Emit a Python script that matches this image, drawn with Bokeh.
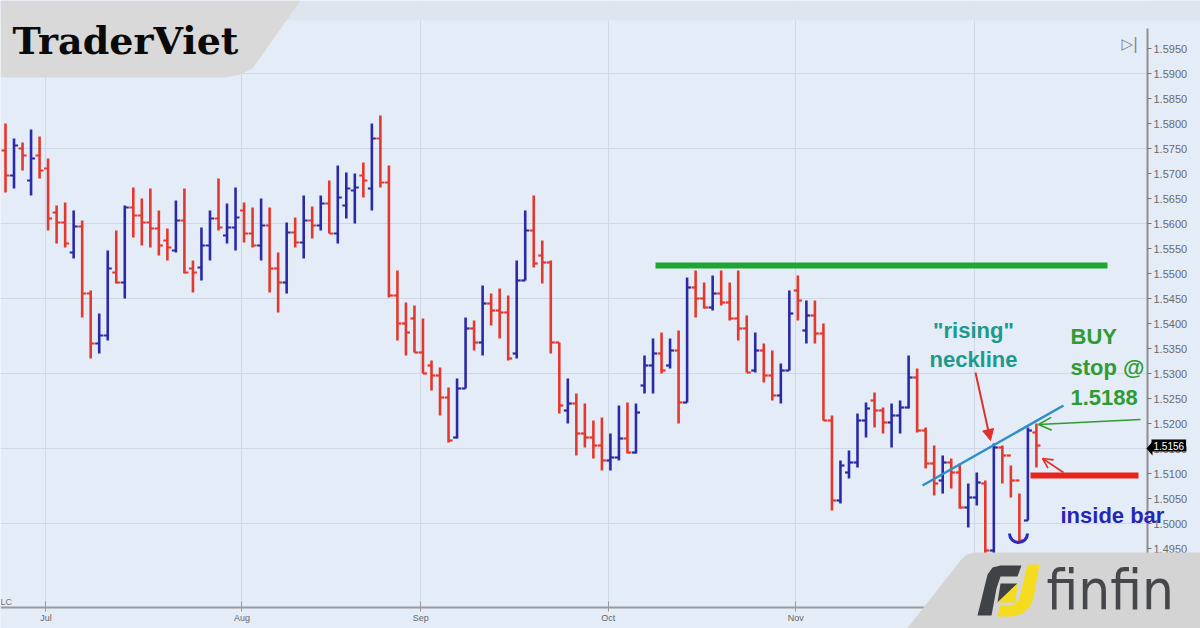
import numpy as np
import pandas as pd
from bokeh.plotting import figure
from bokeh.models import (ColumnDataSource, Range1d, FixedTicker, NumeralTickFormatter, Label,
                          PolyAnnotation, BoxAnnotation, Arrow, NormalHead, OpenHead)
from bokeh.embed import file_html
from bokeh.resources import INLINE

# ---------------- data (GBP/USD daily bars) ----------------
start_date = "2015-06-24"
highs = [1.5800, 1.5770, 1.5762, 1.5788, 1.5774, 1.5730, 1.5636, 1.5642, 1.5626, 1.5606,
         1.5466, 1.5420, 1.5546, 1.5586, 1.5636, 1.5672, 1.5650, 1.5670, 1.5626, 1.5590,
         1.5646, 1.5670, 1.5526, 1.5592, 1.5626, 1.5690, 1.5640, 1.5672, 1.5642, 1.5632,
         1.5650, 1.5632, 1.5542, 1.5602, 1.5612, 1.5656, 1.5634, 1.5656, 1.5686, 1.5716,
         1.5702, 1.5700, 1.5722, 1.5800, 1.5816, 1.5716, 1.5506, 1.5442, 1.5436, 1.5410,
         1.5326, 1.5312, 1.5272, 1.5290, 1.5412, 1.5406, 1.5476, 1.5460, 1.5470, 1.5456,
         1.5526, 1.5626, 1.5656, 1.5566, 1.5526, 1.5362, 1.5290, 1.5260, 1.5240, 1.5206,
         1.5212, 1.5180, 1.5236, 1.5242, 1.5240, 1.5336, 1.5370, 1.5382, 1.5370, 1.5386,
         1.5492, 1.5506, 1.5482, 1.5496, 1.5506, 1.5482, 1.5506, 1.5416, 1.5382, 1.5360,
         1.5346, 1.5320, 1.5466, 1.5496, 1.5446, 1.5446, 1.5400, 1.5216, 1.5126, 1.5146,
         1.5220, 1.5242, 1.5262, 1.5232, 1.5240, 1.5246, 1.5336, 1.5310, 1.5192, 1.5156,
         1.5136, 1.5130, 1.5120, 1.5080, 1.5102, 1.5086, 1.5160, 1.5156, 1.5116, 1.5060,
         1.5192, 1.5200]
lows = [1.5662, 1.5670, 1.5706, 1.5656, 1.5690, 1.5586, 1.5560, 1.5552, 1.5530, 1.5412,
        1.5330, 1.5340, 1.5366, 1.5480, 1.5450, 1.5572, 1.5556, 1.5552, 1.5536, 1.5526,
        1.5542, 1.5500, 1.5462, 1.5486, 1.5526, 1.5586, 1.5560, 1.5546, 1.5562, 1.5552,
        1.5526, 1.5462, 1.5422, 1.5460, 1.5552, 1.5530, 1.5570, 1.5586, 1.5580, 1.5560,
        1.5610, 1.5600, 1.5652, 1.5626, 1.5672, 1.5452, 1.5366, 1.5336, 1.5342, 1.5300,
        1.5266, 1.5216, 1.5162, 1.5170, 1.5270, 1.5346, 1.5336, 1.5396, 1.5370, 1.5326,
        1.5330, 1.5486, 1.5512, 1.5480, 1.5340, 1.5220, 1.5200, 1.5136, 1.5152, 1.5130,
        1.5106, 1.5106, 1.5126, 1.5140, 1.5140, 1.5260, 1.5260, 1.5300, 1.5310, 1.5200,
        1.5242, 1.5412, 1.5430, 1.5426, 1.5436, 1.5406, 1.5366, 1.5302, 1.5302, 1.5282,
        1.5246, 1.5240, 1.5306, 1.5406, 1.5360, 1.5360, 1.5206, 1.5026, 1.5040, 1.5090,
        1.5112, 1.5172, 1.5192, 1.5180, 1.5152, 1.5180, 1.5230, 1.5182, 1.5110, 1.5056,
        1.5060, 1.5070, 1.5030, 1.4992, 1.5036, 1.4930, 1.4930, 1.5080, 1.5052, 1.4962,
        1.5006, 1.5112]
opens = [1.5746, 1.5696, 1.5750, 1.5686, 1.5736, 1.5710, 1.5622, 1.5602, 1.5542, 1.5594,
         1.5460, 1.5360, 1.5376, 1.5502, 1.5482, 1.5632, 1.5616, 1.5602, 1.5590, 1.5566,
         1.5546, 1.5606, 1.5510, 1.5512, 1.5556, 1.5610, 1.5576, 1.5592, 1.5626, 1.5580,
         1.5556, 1.5596, 1.5510, 1.5482, 1.5582, 1.5562, 1.5606, 1.5596, 1.5640, 1.5580,
         1.5636, 1.5666, 1.5696, 1.5670, 1.5770, 1.5682, 1.5456, 1.5400, 1.5410, 1.5342,
         1.5316, 1.5296, 1.5252, 1.5172, 1.5270, 1.5390, 1.5362, 1.5440, 1.5426, 1.5422,
         1.5340, 1.5486, 1.5586, 1.5536, 1.5522, 1.5362, 1.5226, 1.5240, 1.5180, 1.5172,
         1.5156, 1.5126, 1.5132, 1.5170, 1.5142, 1.5276, 1.5316, 1.5340, 1.5316, 1.5346,
         1.5242, 1.5472, 1.5450, 1.5432, 1.5460, 1.5442, 1.5410, 1.5390, 1.5306, 1.5346,
         1.5296, 1.5256, 1.5306, 1.5466, 1.5386, 1.5416, 1.5380, 1.5206, 1.5046, 1.5102,
         1.5122, 1.5206, 1.5246, 1.5226, 1.5202, 1.5216, 1.5232, 1.5292, 1.5186, 1.5120,
         1.5086, 1.5122, 1.5102, 1.5032, 1.5052, 1.5080, 1.4946, 1.5152, 1.5136, 1.5086,
         1.5006, 1.5182]
closes = [1.5696, 1.5756, 1.5736, 1.5730, 1.5706, 1.5610, 1.5602, 1.5560, 1.5594, 1.5460,
          1.5360, 1.5376, 1.5510, 1.5482, 1.5632, 1.5616, 1.5602, 1.5590, 1.5556, 1.5552,
          1.5606, 1.5502, 1.5502, 1.5556, 1.5610, 1.5592, 1.5592, 1.5612, 1.5580, 1.5556,
          1.5596, 1.5510, 1.5482, 1.5582, 1.5562, 1.5606, 1.5596, 1.5640, 1.5580, 1.5652,
          1.5670, 1.5672, 1.5686, 1.5770, 1.5682, 1.5456, 1.5400, 1.5382, 1.5342, 1.5300,
          1.5296, 1.5252, 1.5166, 1.5270, 1.5390, 1.5362, 1.5440, 1.5426, 1.5422, 1.5330,
          1.5486, 1.5586, 1.5520, 1.5522, 1.5362, 1.5236, 1.5240, 1.5180, 1.5172, 1.5156,
          1.5126, 1.5132, 1.5170, 1.5142, 1.5222, 1.5316, 1.5340, 1.5306, 1.5346, 1.5242,
          1.5472, 1.5450, 1.5432, 1.5460, 1.5442, 1.5410, 1.5390, 1.5302, 1.5346, 1.5296,
          1.5256, 1.5306, 1.5420, 1.5446, 1.5416, 1.5380, 1.5206, 1.5046, 1.5116, 1.5122,
          1.5206, 1.5230, 1.5226, 1.5202, 1.5216, 1.5232, 1.5292, 1.5186, 1.5120, 1.5080,
          1.5122, 1.5102, 1.5032, 1.5052, 1.5082, 1.4946, 1.5152, 1.5136, 1.5086, 1.4966,
          1.5186, 1.5156]
month_labels = ["Jul", "Aug", "Sep", "Oct", "Nov", "Dec"]
price_ticks = [1.4950, 1.5000, 1.5050, 1.5100, 1.5150, 1.5200, 1.5250, 1.5300, 1.5350, 1.5400,
               1.5450, 1.5500, 1.5550, 1.5600, 1.5650, 1.5700, 1.5750, 1.5800, 1.5850, 1.5900, 1.5950]
grid_prices = [1.5000, 1.5150, 1.5300, 1.5450, 1.5600, 1.5750, 1.5900]
last_price = 1.5156
resistance = 1.5516
stop_level = 1.5096

# ---------------- layout helpers (reference pixel -> data space) ----------------
W, H = 1200, 628
X0, PX_BAR = 5.0, 8.52
Y0, PX_UNIT = 523.0, 5000.0
def dx(X):
    return (X - X0) / PX_BAR
def dy(Y):
    return 1.5 + (Y0 - Y) / PX_UNIT

BG = "#e4ecf8"
RED, BLUE = "#e5382c", "#2a2aa6"

n = len(highs)
idx = np.arange(n)
dates = pd.bdate_range(start_date, periods=n)
month_pos, month_txt = [], []
for k in range(1, n):
    if dates[k].month != dates[k - 1].month:
        month_pos.append(k - 0.25)
        month_txt.append(month_labels[len(month_pos) - 1])

colors = [RED if c < o else BLUE for o, c in zip(opens, closes)]
src = ColumnDataSource(dict(x=idx, xl=idx - 0.47, xr=idx + 0.47, high=highs, low=lows,
                            open=opens, close=closes, color=colors))

p = figure(width=W, height=H, x_range=Range1d(dx(0), dx(W)), y_range=Range1d(dy(H), dy(0)),
           y_axis_location="right", output_backend="svg", toolbar_location=None, min_border=0)
p.background_fill_color = BG
p.border_fill_color = BG
p.outline_line_color = None

# axes drawn at fixed positions inside the frame
p.yaxis.fixed_location = dx(1147)
p.yaxis.bounds = (dy(607), dy(28))
p.yaxis.ticker = FixedTicker(ticks=price_ticks)
p.yaxis.formatter = NumeralTickFormatter(format="0.0000")
p.yaxis.major_label_text_font = "Liberation Sans"
p.yaxis.major_label_text_font_size = "11px"
p.yaxis.major_label_text_color = "#6a6a6a"
p.yaxis.axis_line_color = "#8f8f8f"
p.yaxis.axis_line_width = 2
p.yaxis.major_tick_line_color = "#777777"
p.yaxis.major_tick_out = 4
p.yaxis.major_tick_in = 0
p.yaxis.minor_tick_line_color = None
p.yaxis.major_label_standoff = 2

p.xaxis.fixed_location = dy(607)
p.xaxis.bounds = (dx(0), dx(1147))
p.xaxis.ticker = FixedTicker(ticks=month_pos)
p.xaxis.major_label_overrides = {float(k): t for k, t in zip(month_pos, month_txt)}
p.xaxis.major_label_text_font = "Liberation Sans"
p.xaxis.major_label_text_font_size = "9px"
p.xaxis.major_label_text_color = "#666666"
p.xaxis.axis_line_color = "#9a9a9a"
p.xaxis.axis_line_width = 2
p.xaxis.major_tick_line_color = "#999999"
p.xaxis.major_tick_in = 6
p.xaxis.major_tick_out = 4
p.xaxis.minor_tick_line_color = None
p.xaxis.major_label_standoff = 1

p.ygrid.ticker = FixedTicker(ticks=grid_prices)
p.ygrid.grid_line_color = "#cfd8e6"
p.xgrid.grid_line_color = "#cfd8e6"

# keep grid inside the plotting area, plus the top band
p.add_layout(BoxAnnotation(left=dx(1148), fill_color=BG, fill_alpha=1, line_color=None, level="underlay"))
p.add_layout(BoxAnnotation(top=dy(608), fill_color=BG, fill_alpha=1, line_color=None, level="underlay"))
p.add_layout(BoxAnnotation(bottom=dy(20), fill_color="#dee5ef", fill_alpha=1, line_color=None, level="underlay"))

# OHLC bars
p.segment(x0="x", y0="low", x1="x", y1="high", color="color", line_width=2.6, source=src)
p.segment(x0="xl", y0="open", x1="x", y1="open", color="color", line_width=2.2, source=src)
p.segment(x0="x", y0="close", x1="xr", y1="close", color="color", line_width=2.2, source=src)

# resistance, neckline, stop line
p.segment(x0=[dx(655)], y0=[resistance], x1=[dx(1107)], y1=[resistance], color="#1fa531", line_width=6)
p.segment(x0=[dx(922)], y0=[dy(485)], x1=[dx(1063)], y1=[dy(405)], color="#2f8fc8", line_width=2.5)
p.segment(x0=[dx(1030)], y0=[stop_level], x1=[dx(1138)], y1=[stop_level], color="#e8231c", line_width=6)
p.arc(x=[dx(1018)], y=[dy(533)], radius=9 / PX_BAR, start_angle=np.pi, end_angle=2 * np.pi,
      color="#2a2ac0", line_width=3)

# arrows
p.add_layout(Arrow(x_start=dx(975), y_start=dy(372), x_end=dx(990), y_end=dy(440),
                   line_color="#e0302a", line_width=2,
                   end=NormalHead(size=11, fill_color="#e0302a", line_color="#e0302a")))
p.add_layout(Arrow(x_start=dx(1140), y_start=dy(419), x_end=dx(1038), y_end=dy(424),
                   line_color="#2f9b32", line_width=1.6,
                   end=OpenHead(size=13, line_color="#2f9b32", line_width=1.6)))
p.add_layout(Arrow(x_start=dx(1063), y_start=dy(472), x_end=dx(1042), y_end=dy(458),
                   line_color="#e0302a", line_width=1.6,
                   end=OpenHead(size=10, line_color="#e0302a", line_width=1.6)))

# texts
def lab(X, Y, txt, color, size, align="left", bold=True, font="Liberation Sans", baseline="middle"):
    p.add_layout(Label(x=dx(X), y=dy(Y), text=txt, text_color=color, text_font_size=size,
                       text_font=font, text_font_style="bold" if bold else "normal",
                       text_align=align, text_baseline=baseline))

lab(973, 330, '"rising"', "#1c9a8c", "22px", align="center")
lab(973, 359, "neckline", "#1c9a8c", "22px", align="center")
lab(1070, 336, "BUY", "#2f9b32", "22px")
lab(1070, 367, "stop @", "#2f9b32", "22px")
lab(1070, 397, "1.5188", "#2f9b32", "22px")
lab(1060, 515, "inside bar", "#2626b5", "22px")

# last price marker on axis
p.add_layout(PolyAnnotation(xs=[dx(1146), dx(1152), dx(1152)], ys=[dy(448), dy(441), dy(455)],
                            fill_color="black", fill_alpha=1, line_color=None))
p.add_layout(Label(x=dx(1151), y=last_price, text=f"{last_price:.4f}", text_color="white",
                   text_font_size="10px", text_font="Liberation Sans", text_baseline="middle",
                   background_fill_color="black", padding=2))
lab(1121, 43, "▷|", "#808080", "15px", bold=False, font="DejaVu Sans")
lab(0, 601, "LC", "#777777", "9px", bold=False)

# TraderViet logo
p.add_layout(PolyAnnotation(xs=[dx(0), dx(300), dx(252), dx(240), dx(226), dx(0)],
                            ys=[dy(0), dy(0), dy(68), dy(74), dy(77), dy(77)],
                            fill_color="#d9d9d9", fill_alpha=1, line_color=None))
lab(12, 40, "TraderViet", "#0a0a0a", "38px", font="DejaVu Serif")

# finfin logo
p.add_layout(PolyAnnotation(xs=[dx(975), dx(1200), dx(1200), dx(905), dx(960), dx(966)],
                            ys=[dy(552), dy(552), dy(630), dy(630), dy(560), dy(554)],
                            fill_color="#d4d4d4", fill_alpha=1, line_color=None))
p.add_layout(PolyAnnotation(xs=[dx(977), dx(987), dx(992), dx(1000), dx(1021), dx(1017), dx(1000), dx(996), dx(991)],
                            ys=[dy(615), dy(574), dy(567), dy(565), dy(565), dy(576), dy(576), dy(588), dy(615)],
                            fill_color="#404346", fill_alpha=1, line_color=None))
p.add_layout(PolyAnnotation(xs=[dx(1000), dx(1017), dx(997)], ys=[dy(583), dy(583), dy(602)],
                            fill_color="#404346", fill_alpha=1, line_color=None))
p.add_layout(PolyAnnotation(xs=[dx(1017), dx(1015), dx(997)], ys=[dy(583), dy(602), dy(602)],
                            fill_color="#f6dc1e", fill_alpha=1, line_color=None))
p.add_layout(PolyAnnotation(xs=[dx(1027), dx(1039), dx(1033), dx(1029), dx(1022), dx(1012), dx(997), dx(1000), dx(1012), dx(1018), dx(1021)],
                            ys=[dy(564), dy(564), dy(598), dy(607), dy(613), dy(616), dy(616), dy(605), dy(605), dy(600), dy(590)],
                            fill_color="#f6dc1e", fill_alpha=1, line_color=None))
lab(1046, 589, "finfin", "#45474a", "56px", bold=False, font="DejaVu Sans Condensed")

open("out.html", "w").write(file_html(p, INLINE))
